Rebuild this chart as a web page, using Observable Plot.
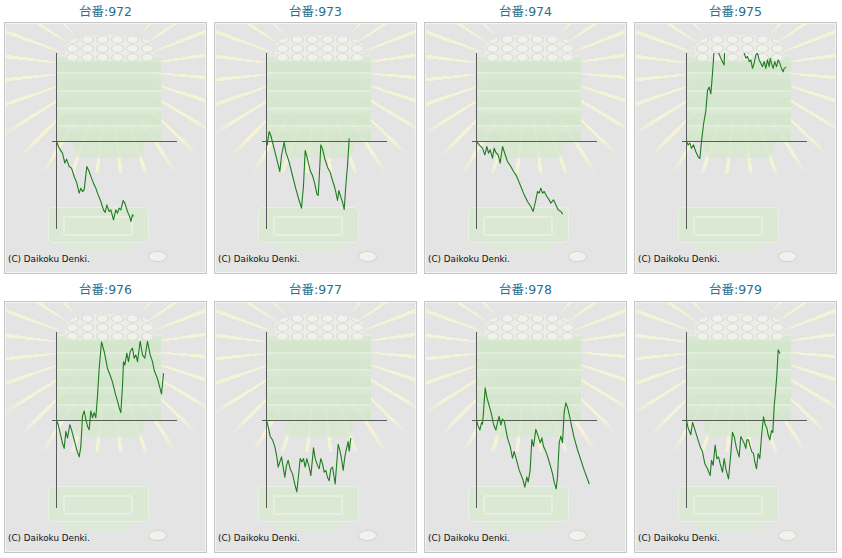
<!DOCTYPE html>
<html><head><meta charset="utf-8">
<script src="https://cdn.jsdelivr.net/npm/d3@7"></script>
<script src="https://cdn.jsdelivr.net/npm/@observablehq/plot@0.6"></script>
<style>
html,body{margin:0;padding:0;background:#fff;}
#root{position:relative;width:842px;height:558px;overflow:hidden;font-family:"DejaVu Sans","Noto Sans CJK JP",sans-serif;}
.title{position:absolute;width:203px;text-align:center;font-size:12.5px;line-height:16px;color:#2a6f8f;font-family:"DejaVu Sans","Noto Sans CJK JP",sans-serif;}
.panel{position:absolute;width:203px;height:252px;box-sizing:border-box;border:1px solid #c6c6c6;background:#e4e4e4;box-shadow:inset 0 0 0 1px #f2f2f2;overflow:hidden;}
.panel > *{position:absolute;}
.rays{left:0;top:0;width:201px;height:150px;
 background:repeating-conic-gradient(from 3deg at 103px 46px, rgba(248,246,212,0.85) 0deg 2deg, transparent 2deg 13deg);
 -webkit-mask-image:radial-gradient(circle at 103px 46px, transparent 45px, #000 62px, #000 100px, transparent 125px);
 mask-image:radial-gradient(circle at 103px 46px, transparent 45px, #000 62px, #000 100px, transparent 125px);}
.pile{left:60px;top:12px;width:88px;height:26px;border-radius:45% 45% 12% 12%;
 background:radial-gradient(ellipse 8px 5px at 50% 50%, #f4f4f0 55%, #dadad2 78%, transparent 88%) 0 0/15px 9px, #eeeeea;opacity:0.85;}
.stack{left:52px;top:32px;width:104px;height:86px;
 background:repeating-linear-gradient(to bottom,#e2efdc 0 2px,#d6e9cf 2px 7px,#d1e6c9 7px 17.5px);opacity:0.8;}
.base{left:67px;top:118px;width:74px;height:17px;background:#d5e8ce;clip-path:polygon(0 0,100% 0,92% 100%,8% 100%);opacity:0.75;}
.tray{left:43px;top:184px;width:101px;height:36px;border-radius:5px;background:#d8eacf;border:1px solid #ebf4e7;box-sizing:border-box;opacity:0.75;}
.tray .inner{position:absolute;left:14px;top:8px;width:66px;height:16px;border:2px solid #e8f3e3;border-radius:3px;}
.traybot{left:60px;top:220px;width:66px;height:9px;background:#dbebd5;opacity:0.7;}
.coin{left:143px;top:228px;width:19px;height:11px;border-radius:50%;background:#f1f1ee;border:1px solid #d4d4ce;box-sizing:border-box;}
.copy{left:3px;top:230px;font-size:8.8px;line-height:12px;color:#111;font-family:"DejaVu Sans",sans-serif;white-space:nowrap;}
.panel svg{left:0;top:0;}
</style></head>
<body><div id="root"></div>
<script>
const machines = ["972","973","974","975","976","977","978","979"];

const g972 = [0,267,600,833,1000,1267,1500,1767,2033,2267,2433,2600,2767,3033,3267,3500,3767,3933,4100,4433,4700,4867,5033,5267,5433,5700,5933,6100,6267,6433,6667,6833,7100,7333,7433,7600,7667];
const d972 = [0,-333,-583,-1083,-883,-1250,-1333,-1750,-2083,-2583,-2333,-2500,-2417,-1250,-1500,-1833,-2167,-2333,-2583,-3000,-3417,-3550,-3167,-3500,-3417,-3917,-3417,-3583,-3333,-3417,-2950,-3083,-3500,-3783,-4000,-3667,-3717];

const g973 = [0,67,267,433,767,1100,1333,1500,1767,1933,2267,2600,2933,3267,3500,3700,3867,4100,4367,4600,4833,5033,5167,5267,5433,5600,5833,6100,6367,6600,6767,6933,7100,7233,7433,7600,7767,7933,8100,8267];
const d973 = [0,-167,500,300,-367,-1033,-1500,-700,-33,-533,-1033,-1700,-2367,-2950,-3333,-2200,-450,-867,-1450,-1700,-2117,-2617,-2700,-1867,-167,-367,-867,-1283,-1533,-1950,-2200,-2533,-2950,-2450,-2783,-3033,-3400,-2200,-1200,133];

const g974 = [0,267,600,833,1033,1200,1367,1600,1767,1933,2167,2367,2600,2767,3100,3433,3700,3933,4167,4433,4767,5100,5433,5667,5933,6100,6267,6433,6600,6767,7033,7267,7433,7700,7933,8167,8433,8600];
const d974 = [0,-167,-333,-667,-250,-583,-417,-833,-333,-550,-667,-1083,-250,-500,-1000,-1250,-1500,-1667,-1917,-2250,-2667,-3000,-3250,-3500,-2917,-2500,-2583,-2333,-2583,-2500,-2750,-2917,-3083,-2917,-3167,-3417,-3500,-3617];

const g975 = [0,167,333,500,700,933,1167,1333,1500,1700,1933,2100,2267,2433,2600,2767,2933,3100,3433,3767,3867,4433,5100,5533,5767,5933,6100,6267,6433,6600,6767,6933,7100,7267,7433,7600,7767,7933,8100,8267,8367,8500,8667,8833,9000,9167,9333,9500,9667,9767,9933];
const d975 = [0,-170,-85,-340,-170,-510,-765,-850,0,850,1530,2550,2720,2380,3400,4590,5270,4560,4165,3825,5610,6290,5950,5100,4420,4165,4250,3995,4080,3655,3910,4335,4420,4080,3910,3740,3995,3655,4080,3740,4165,3910,3655,3995,3740,4080,3910,3655,3485,3655,3705];

const g976 = [0,167,367,600,767,933,1100,1333,1500,1767,2033,2267,2433,2600,2767,2933,3100,3267,3433,3600,3767,3933,4100,4267,4500,4767,5100,5367,5600,5933,6100,6267,6433,6600,6700,6833,7033,7200,7367,7600,7767,7933,8100,8367,8600,8833,9100,9367,9600,9767,10100,10500,10700];
const d976 = [0,-204,-629,-1139,-1394,-544,-884,-204,-459,-969,-1479,-1819,-1309,221,476,51,-289,-459,476,136,391,136,1241,2601,3927,3451,2601,2261,1921,1241,986,646,391,1751,2941,2771,3366,2941,3451,3621,3111,3281,2941,3961,3281,3111,3961,3281,2941,2516,2091,1326,2346];

const g977 = [0,167,367,600,833,1033,1167,1333,1500,1667,1833,2000,2167,2367,2600,2833,3033,3167,3367,3533,3700,3867,4033,4267,4433,4600,4700,4867,5100,5267,5433,5600,5767,5933,6100,6267,6433,6600,6767,6867,7033,7167,7333,7500,7667,7833,8000,8167,8267,8433];
const d977 = [0,-289,-799,-969,-1309,-1819,-2329,-2074,-1819,-2329,-2839,-2244,-1989,-2414,-2669,-3179,-3570,-2924,-1904,-2074,-1904,-2329,-1904,-2329,-2754,-1904,-1360,-1904,-2244,-2414,-1904,-2159,-2584,-2499,-2839,-3009,-2414,-2329,-2839,-3179,-2074,-1190,-1479,-1904,-2499,-1819,-1394,-1054,-1530,-884];

const g978 = [0,167,333,500,600,700,867,1033,1267,1500,1700,1933,2100,2267,2433,2600,2767,2933,3100,3367,3600,3767,4000,4267,4600,4833,5033,5167,5367,5533,5700,5933,6167,6367,6533,6700,6933,7167,7367,7600,7767,7967,8100,8267,8433,8600,8767,8933,9100,9300,9500,9767,10100,10433,10767,11267];
const d978 = [0,-272,-476,-102,-187,408,1632,1173,748,323,-187,-476,-102,204,-238,68,-17,-442,-867,-1292,-1887,-1547,-1972,-2482,-2907,-3332,-2822,-3077,-2482,-952,-1292,-442,-782,-1122,-867,-1292,-1547,-1887,-2227,-2652,-3077,-3417,-2822,-1122,-782,-1122,408,884,663,238,-272,-867,-1462,-1972,-2482,-3162];

const g979 = [0,167,433,600,833,1100,1367,1600,1833,2100,2367,2500,2667,2867,3033,3200,3367,3600,3767,3933,4200,4433,4600,4767,5000,5267,5433,5600,5767,5933,6033,6200,6367,6533,6700,6833,7000,7167,7333,7500,7700,7867,8033,8167,8333,8500,8633,8767,8900,9033,9167,9333];
const d979 = [0,-374,-714,-85,-459,-884,-1309,-1564,-2159,-2414,-2754,-1989,-2244,-1224,-1904,-1819,-2159,-2584,-1904,-2414,-2924,-1649,-595,-799,-1394,-1819,-799,-969,-1139,-1394,-969,-969,-1309,-1564,-1649,-2074,-2414,-1649,-1904,-799,187,-204,-374,-714,-969,-510,-595,731,1411,2261,3536,3366];

const gamesBy = {"972":g972,"973":g973,"974":g974,"975":g975,"976":g976,"977":g977,"978":g978,"979":g979};
const diffBy  = {"972":d972,"973":d973,"974":d974,"975":d975,"976":d976,"977":d977,"978":d978,"979":d979};

const titlePrefix = "台番:";
const copyright = "(C) Daikoku Denki.";
const xDomain = [0, 12000];
const yDomain = [-4400, 4400];

const root = document.getElementById("root");
const colLeft = [4, 214, 424, 634];
const rowTop = [22, 301];
const titleTop = [4, 282];

machines.forEach((m, i) => {
  const col = i % 4, row = Math.floor(i / 4);
  const t = document.createElement("div");
  t.className = "title";
  t.style.left = colLeft[col] + "px";
  t.style.top = titleTop[row] + "px";
  t.textContent = titlePrefix + m;
  root.appendChild(t);

  const p = document.createElement("div");
  p.className = "panel";
  p.style.left = colLeft[col] + "px";
  p.style.top = rowTop[row] + "px";
  p.innerHTML = '<div class="rays"></div><div class="stack"></div><div class="base"></div><div class="pile"></div>' +
    '<div class="tray"><div class="inner"></div></div><div class="traybot"></div><div class="coin"></div>';

  const data = gamesBy[m].map((g, k) => ({g, d: diffBy[m][k]}));
  const chart = Plot.plot({
    width: 201, height: 250,
    marginLeft: 51, marginRight: 30, marginTop: 30, marginBottom: 44,
    x: {domain: xDomain, axis: null},
    y: {domain: yDomain, axis: null},
    style: {background: "transparent", overflow: "visible"},
    marks: [
      Plot.ruleY([0], {x1: -400, x2: 12100, stroke: "#5a5a5a", strokeWidth: 1}),
      Plot.ruleX([0], {stroke: "#5a5a5a", strokeWidth: 1}),
      Plot.line(data, {x: "g", y: "d", stroke: "#1f7d1f", strokeWidth: 1.1, clip: true})
    ]
  });
  p.appendChild(chart);

  const c = document.createElement("div");
  c.className = "copy";
  c.textContent = copyright;
  p.appendChild(c);
  root.appendChild(p);
});
</script>
</body></html>
